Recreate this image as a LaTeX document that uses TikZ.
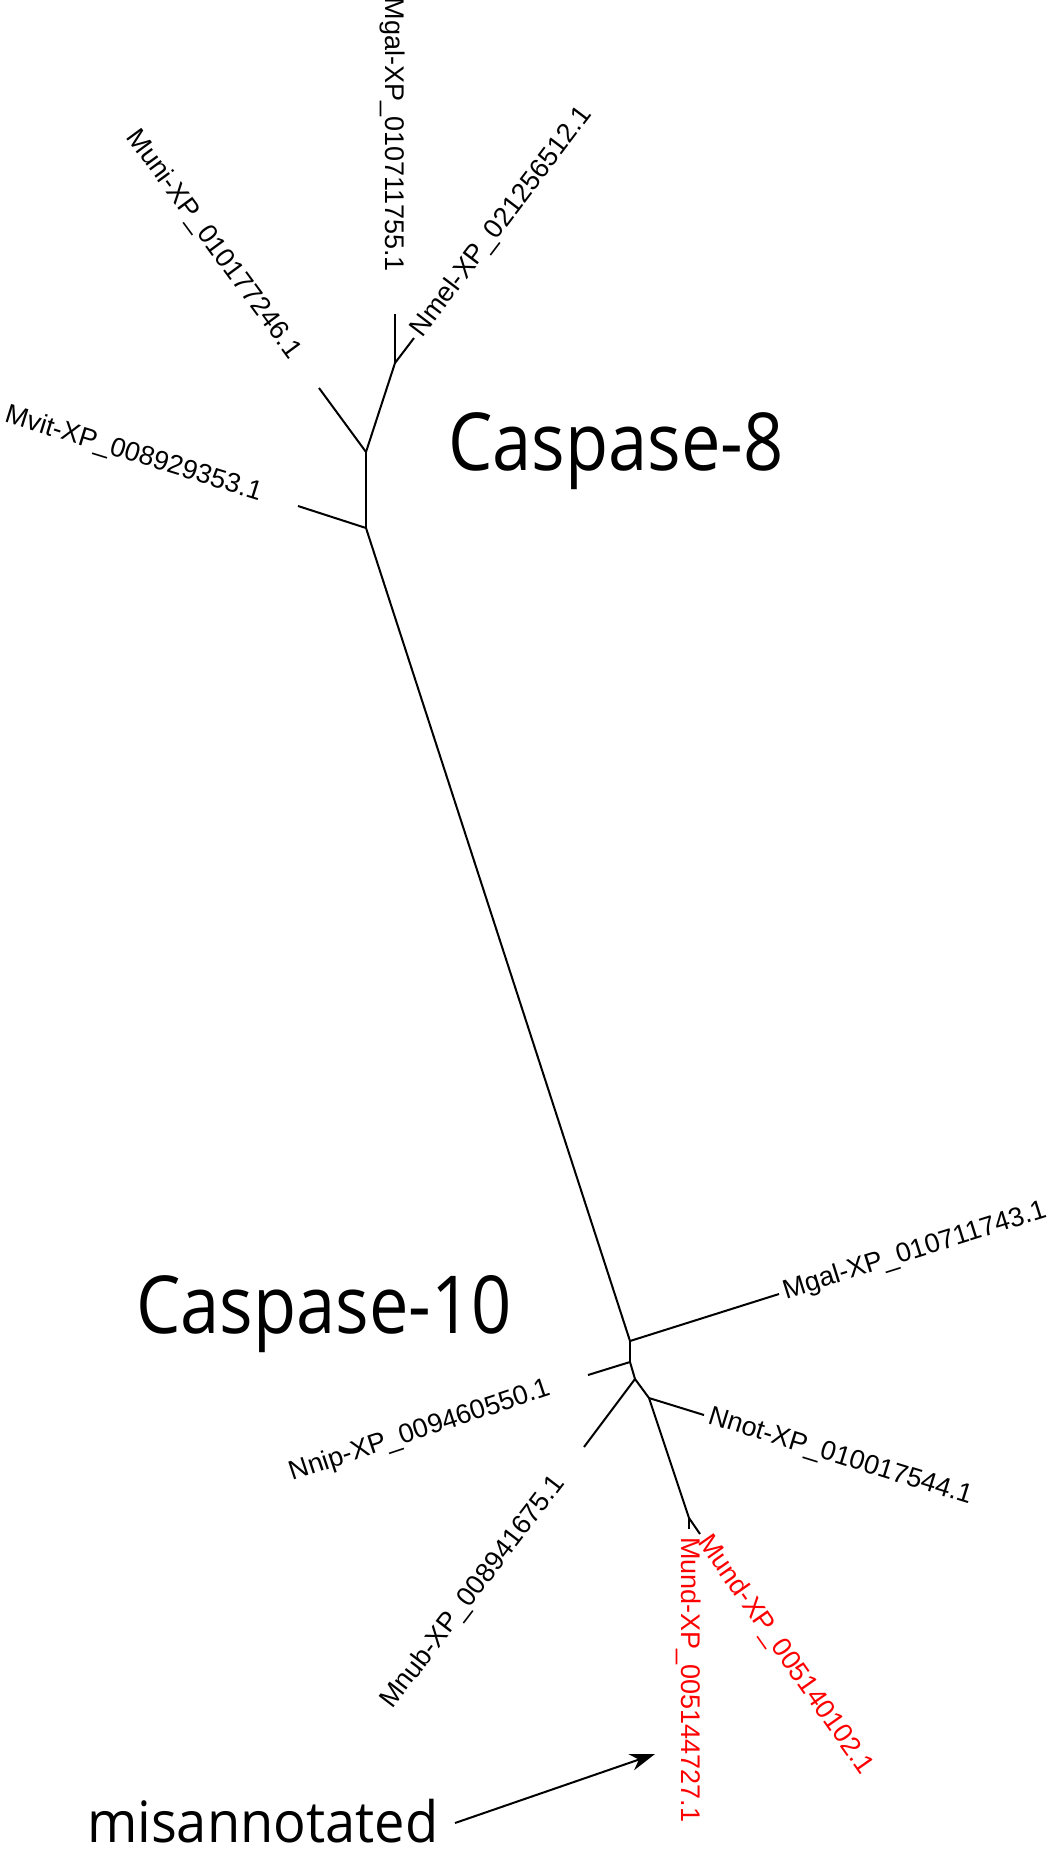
\documentclass[tikz,border=0pt]{standalone}
\usepackage{fontspec}
\setmainfont{Liberation Sans}
\newfontfamily\bigfont{Open Sans}
\usetikzlibrary{arrows.meta}
\begin{document}
\begin{tikzpicture}[x=1pt,y=-1pt,
  branch/.style={line width=2pt, line cap=butt, line join=miter},
  leaflabel/.style={inner sep=0pt, outer sep=0pt, font=\fontsize{27}{32}\selectfont, text height=19pt, text depth=5pt},
  redlabel/.style={leaflabel, text=red},
  bigtext/.style={inner sep=0pt, outer sep=0pt, xscale=0.88, anchor=base west}
]
\useasboundingbox[fill=white] (0,0) rectangle (1059,1858);

% internal nodes
\coordinate (N1) at (395,363);
\coordinate (N2) at (366,452);
\coordinate (N3) at (366,528);
\coordinate (N4) at (630,1341);
\coordinate (N5) at (630,1362);
\coordinate (N6) at (635,1379);
\coordinate (N7) at (649,1398);
\coordinate (N8) at (689,1518);
% leaf tips
\coordinate (LMgalA) at (395,314);
\coordinate (LNmel) at (414,338);
\coordinate (LMuni) at (319,388);
\coordinate (LMvit) at (298,506);
\coordinate (LMgalB) at (779,1294);
\coordinate (LNnip) at (588,1375);
\coordinate (LMnub) at (584,1447);
\coordinate (LNnot) at (704,1415);
\coordinate (LMundA) at (689,1529);
\coordinate (LMundB) at (700,1534);

% branches
\draw[branch] (N1) -- (LMgalA);
\draw[branch] (N1) -- (LNmel);
\draw[branch] (N2) -- (N1);
\draw[branch] (N2) -- (LMuni);
\draw[branch] (N3) -- (N2);
\draw[branch] (N3) -- (LMvit);
\draw[branch] (N3) -- (N4);
\draw[branch] (N4) -- (LMgalB);
\draw[branch] (N4) -- (N5);
\draw[branch] (N5) -- (LNnip);
\draw[branch] (N5) -- (N6);
\draw[branch] (N6) -- (LMnub);
\draw[branch] (N6) -- (N7);
\draw[branch] (N7) -- (LNnot);
\draw[branch] (N7) -- (N8);
\draw[branch] (N8) -- (LMundA);
\draw[branch] (N8) -- (LMundB);

% leaf labels
\node[leaflabel, anchor=east, rotate=-90] (tMgalA) at (392,272) {Mgal-XP\_010711755.1};
\node[leaflabel, anchor=west, rotate=52.8] (tNmel) at (417,334) {Nmel-XP\_021256512.1};
\node[leaflabel, anchor=east, rotate=-53.7] (tMuni) at (295,356) {Muni-XP\_010177246.1};
\node[leaflabel, anchor=east, rotate=-17.2] (tMvit) at (261,494) {Mvit-XP\_008929353.1};
\node[leaflabel, anchor=west, rotate=17.5] (tMgalB) at (784,1292.5) {Mgal-XP\_010711743.1};
\node[leaflabel, anchor=east, rotate=18.4] (tNnip) at (550,1388) {Nnip-XP\_009460550.1};
\node[leaflabel, anchor=east, rotate=52.6] (tMnub) at (560,1479) {Mnub-XP\_008941675.1};
\node[leaflabel, anchor=west, rotate=-17.2] (tNnot) at (709,1416.5) {Nnot-XP\_010017544.1};
\node[redlabel, anchor=west, rotate=-90] (tMundA) at (688,1537) {Mund-XP\_005144727.1};
\node[redlabel, anchor=west, rotate=-54.9] (tMundB) at (703,1538.5) {Mund-XP\_005140102.1};

% group titles
\node[bigtext, font=\bigfont\fontsize{80}{96}\selectfont] (c8) at (448,470) {Caspase-8};
\node[bigtext, font=\bigfont\fontsize{80}{96}\selectfont] (c10) at (136,1333) {Caspase-10};
\node[bigtext, xscale=1.08, font=\bigfont\fontsize{57}{68}\selectfont] (mis) at (87,1842) {misannotated};

% arrow
\coordinate (arrS) at (455,1823);
\coordinate (arrT) at (655,1754);
\draw[line width=2pt, -{Stealth[length=25pt, width=17pt, inset=8pt]}] (arrS) -- (arrT);
\end{tikzpicture}
\end{document}
